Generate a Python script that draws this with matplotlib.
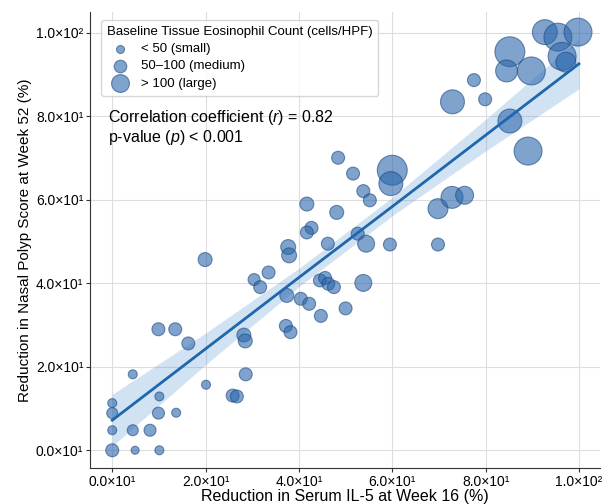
import numpy as np
import matplotlib
matplotlib.use("Agg")
import matplotlib.pyplot as plt
from matplotlib.ticker import FuncFormatter, MultipleLocator

# reduction in serum IL-5 at week 16 (%)
il5_reduction = [9.9, 13.5, 16.3, 28.2, 28.5, 4.4, 20.1, 28.6, 25.8, 26.7,
                 0.0, 10.1, 0.0, 9.9, 13.7, 0.0, 4.4, 8.1, 0.0, 4.9,
                 10.1, 41.7, 48.1, 42.7, 41.7, 37.7, 37.9, 46.2, 52.6, 54.4,
                 59.5, 69.8, 69.8, 72.8, 75.5, 19.9, 30.4, 33.5, 31.7, 48.4,
                 51.6, 53.8, 55.2, 60.0, 59.7, 53.8, 44.5, 45.6, 46.3, 47.5,
                 37.4, 40.4, 42.2, 50.0, 44.7, 37.2, 38.2, 72.9, 77.5, 79.9,
                 85.2, 89.1, 85.2, 84.5, 89.8, 92.7, 95.5, 99.8, 96.4, 97.2]
# reduction in nasal polyp score at week 52 (%)
polyp_reduction = [29.0, 29.0, 25.6, 27.6, 26.2, 18.2, 15.7, 18.2, 13.1, 12.9,
                   11.3, 12.9, 8.9, 8.9, 9.0, 4.8, 4.8, 4.8, 0.0, 0.0,
                   0.0, 59.0, 57.0, 53.3, 52.2, 48.7, 46.7, 49.5, 51.9, 49.5,
                   49.3, 49.3, 57.9, 60.6, 61.1, 45.7, 40.9, 42.6, 39.1, 70.1,
                   66.3, 62.1, 59.9, 67.1, 63.9, 40.1, 40.7, 41.3, 39.9, 39.1,
                   37.1, 36.3, 35.1, 34.0, 32.2, 29.8, 28.3, 83.5, 88.7, 84.1,
                   78.9, 71.7, 95.5, 90.9, 90.9, 100.2, 99.0, 100.2, 94.4, 93.0]
# baseline tissue eosinophil count (cells/HPF)
eos_count = [79, 79, 79, 92, 92, 38, 38, 79, 79, 79,
             38, 38, 57, 68, 38, 38, 57, 68, 79, 30,
             38, 92, 92, 79, 79, 105, 105, 79, 79, 135,
             79, 79, 188, 227, 152, 92, 68, 79, 79, 79,
             79, 79, 79, 422, 270, 135, 79, 79, 79, 79,
             92, 79, 79, 79, 79, 79, 79, 270, 79, 79,
             270, 368, 422, 227, 368, 293, 368, 368, 368, 188]

# fitted trend line and its confidence band
fit_x = [0, 20, 40, 60, 80, 100]
fit_y = [7.2, 24.3, 41.4, 58.4, 75.5, 92.6]
band_lo = [1.0, 20.5, 39.2, 56.2, 71.7, 86.6]
band_hi = [13.4, 28.1, 43.6, 60.6, 79.3, 98.6]

legend_counts = [30, 75, 150]
legend_labels = ["< 50 (small)", "50\u2013100 (medium)", "> 100 (large)"]

plt.rcParams['font.family'] = ['Liberation Sans', 'DejaVu Sans']
plt.rcParams['mathtext.fontset'] = 'custom'
plt.rcParams['mathtext.rm'] = 'Liberation Sans'
plt.rcParams['mathtext.it'] = 'Liberation Sans:italic'

size_scale = 1.1
point_color = '#2a66ad'
edge_color = '#1c4a7e'
line_color = '#1f66ad'

sup = {1: '\u00b9', 2: '\u00b2'}


def sci_fmt(v, pos):
    exp = 2 if abs(v) >= 100 else 1
    return f"{v / 10 ** exp:.1f}\u00d710{sup[exp]}"


fig = plt.figure(figsize=(6.06, 5.04), dpi=100)
ax = fig.add_axes([0.149, 0.071, 0.841, 0.905])

ax.fill_between(fit_x, band_lo, band_hi, color='#5b9bd5',
                alpha=0.28, linewidth=0, zorder=1)
ax.plot(fit_x, fit_y, color=line_color, lw=2, zorder=3)

ax.scatter(il5_reduction, polyp_reduction,
           s=np.array(eos_count) * size_scale, color=point_color,
           alpha=0.6, edgecolor=edge_color, linewidth=0.8, zorder=2)

handles = [ax.scatter([], [], s=c * size_scale, color=point_color, alpha=0.6,
                      edgecolor=edge_color, linewidth=0.8)
           for c in legend_counts]
leg = ax.legend(handles, legend_labels,
                title="Baseline Tissue Eosinophil Count (cells/HPF)",
                loc='upper left', fontsize=9.5, title_fontsize=9.5,
                frameon=True, borderpad=0.45, labelspacing=0.38,
                handletextpad=0.6, bbox_to_anchor=(0.008, 0.997))
leg.get_frame().set_edgecolor('#cccccc')
leg._legend_box.align = 'left'

ax.text(0.035, 0.79, "Correlation coefficient ($r$) = 0.82\np-value ($p$) < 0.001",
        transform=ax.transAxes, fontsize=11.5, va='top', ha='left',
        linespacing=1.05)

ax.set_xlim(-4.7, 104.5)
ax.set_ylim(-4.3, 105)
ax.xaxis.set_major_locator(MultipleLocator(20))
ax.yaxis.set_major_locator(MultipleLocator(20))
ax.xaxis.set_major_formatter(FuncFormatter(sci_fmt))
ax.yaxis.set_major_formatter(FuncFormatter(sci_fmt))
ax.tick_params(labelsize=10, length=3, pad=2, color='#333333')

ax.grid(True, color='#dddddd', linewidth=0.8)
ax.set_axisbelow(True)
for side in ['top', 'right']:
    ax.spines[side].set_visible(False)
for side in ['left', 'bottom']:
    ax.spines[side].set_color('#333333')

ax.set_xlabel("Reduction in Serum IL-5 at Week 16 (%)", fontsize=11.5, labelpad=0)
ax.set_ylabel("Reduction in Nasal Polyp Score at Week 52 (%)", fontsize=11, labelpad=3)

fig.savefig("out.png", dpi=100)
